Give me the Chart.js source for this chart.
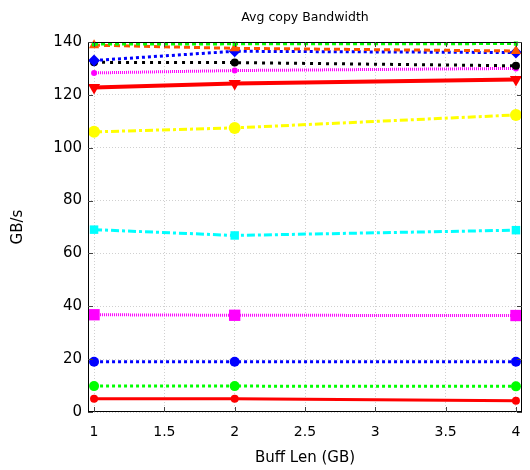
<!DOCTYPE html>
<html>
<head>
<meta charset="utf-8">
<script src="https://cdn.jsdelivr.net/npm/chart.js@4"></script>
<style>
  html, body { margin: 0; padding: 0; background: #fff; }
  #wrap { width: 530px; height: 470px; }
</style>
</head>
<body>
<div id="wrap"><canvas id="chart" width="530" height="470"></canvas></div>
<script>
const bufLen = [1, 2, 4];
const xTicks = [1, 1.5, 2, 2.5, 3, 3.5, 4];
const yTicks = [0, 20, 40, 60, 80, 100, 120, 140];

// series, top of the plot first
const greenSq   = [139.2, 139.3, 139.4];
const orangeTri = [138.8, 137.6, 136.6];
const blueDiam  = [133.0, 136.5, 136.0];
const blackDot  = [132.3, 132.2, 131.0];
const magentaSm = [128.3, 129.2, 130.0];
const redTri    = [122.8, 124.3, 125.8];
const yellowDot = [106.0, 107.5, 112.4];
const cyanSq    = [69.0, 66.8, 68.8];
const magentaSq = [36.8, 36.6, 36.5];
const blueDot   = [19.0, 19.0, 19.0];
const greenDot  = [9.8, 9.8, 9.7];
const redDot    = [5.0, 5.0, 4.3];

const pts = arr => arr.map((v, i) => ({ x: bufLen[i], y: v }));

function series(data, color, dash, width, style, radius, rot) {
    return {
        data: pts(data),
        borderColor: color,
        backgroundColor: color,
        borderWidth: width,
        borderDash: dash,
        pointStyle: style,
        pointRadius: radius,
        pointRotation: rot || 0,
        pointBorderWidth: 0,
        tension: 0,
        clip: 4
    };
}

// frame with inward ticks, matlab style
const framePlugin = {
    id: 'frame',
    afterDraw(chart) {
        const { ctx, chartArea: a, scales } = chart;
        ctx.save();
        ctx.strokeStyle = '#000';
        ctx.lineWidth = 1;
        ctx.strokeRect(a.left + 0.5, a.top + 0.5, a.right - a.left - 1, a.bottom - a.top - 1);
        ctx.strokeStyle = '#444';
        ctx.beginPath();
        xTicks.forEach(t => {
            const px = Math.round(scales.x.getPixelForValue(t)) + 0.5;
            ctx.moveTo(px, a.bottom); ctx.lineTo(px, a.bottom - 5);
            ctx.moveTo(px, a.top); ctx.lineTo(px, a.top + 5);
        });
        yTicks.forEach(t => {
            const py = Math.round(scales.y.getPixelForValue(t)) + 0.5;
            ctx.moveTo(a.left, py); ctx.lineTo(a.left + 5, py);
            ctx.moveTo(a.right, py); ctx.lineTo(a.right - 5, py);
        });
        ctx.stroke();
        ctx.restore();
    }
};

new Chart(document.getElementById('chart'), {
    type: 'line',
    data: {
        datasets: [
            series(greenSq,   '#00ff00', [4, 3], 3, 'rect', 3),
            series(orangeTri, '#ff5500', [6, 4], 3, 'triangle', 6),
            series(blueDiam,  '#0000ff', [3, 3], 3, 'rectRot', 6),
            series(blackDot,  '#000000', [3, 5], 3, 'circle', 4),
            series(magentaSm, '#ff00ff', [1, 1], 3, 'circle', 3),
            series(redTri,    '#ff0000', [], 4, 'triangle', 7, 180),
            series(yellowDot, '#ffff00', [8, 3, 3, 3], 3, 'circle', 6),
            series(cyanSq,    '#00ffff', [8, 3, 3, 3], 3, 'rect', 6),
            series(magentaSq, '#ff00ff', [1, 1], 3, 'rect', 8),
            series(blueDot,   '#0000ff', [3, 3], 3, 'circle', 5),
            series(greenDot,  '#00ff00', [3, 3], 3, 'circle', 5),
            series(redDot,    '#ff0000', [], 3, 'circle', 4)
        ]
    },
    options: {
        responsive: false,
        animation: false,
        layout: { padding: { left: 0, right: 7, top: 0, bottom: 0 } },
        plugins: {
            legend: { display: false },
            tooltip: { enabled: false },
            title: {
                display: true,
                fullSize: false,
                text: 'Avg copy Bandwidth',
                color: '#000',
                font: { family: 'DejaVu Sans', size: 12.5, weight: 'normal' },
                padding: { top: 10, bottom: 17 }
            }
        },
        scales: {
            x: {
                type: 'linear',
                min: 0.957,
                max: 4.043,
                afterBuildTicks: s => { s.ticks = xTicks.map(v => ({ value: v })); },
                afterFit: s => { s.height = 58; s.paddingLeft = 0; s.paddingRight = 0; },
                ticks: {
                    color: '#000',
                    font: { family: 'DejaVu Sans', size: 14 },
                    padding: 12,
                    maxRotation: 0,
                    callback: v => String(v)
                },
                grid: { color: '#d0d0d0', drawTicks: false },
                border: { display: false, dash: [1, 2] },
                title: {
                    display: true,
                    text: 'Buff Len (GB)',
                    color: '#000',
                    font: { family: 'DejaVu Sans', size: 15 },
                    padding: { top: 4, bottom: 3 }
                }
            },
            y: {
                min: 0,
                max: 140,
                afterBuildTicks: s => { s.ticks = yTicks.map(v => ({ value: v })); },
                afterFit: s => { s.width = 88; },
                ticks: {
                    color: '#000',
                    font: { family: 'DejaVu Sans', size: 15 },
                    padding: 6,
                    callback: v => String(v)
                },
                grid: { color: '#d0d0d0', drawTicks: false },
                border: { display: false, dash: [1, 2] },
                title: {
                    display: true,
                    text: 'GB/s',
                    color: '#000',
                    font: { family: 'DejaVu Sans', size: 15 },
                    padding: { top: 9, bottom: 4 }
                }
            }
        }
    },
    plugins: [framePlugin]
});
</script>
</body>
</html>
